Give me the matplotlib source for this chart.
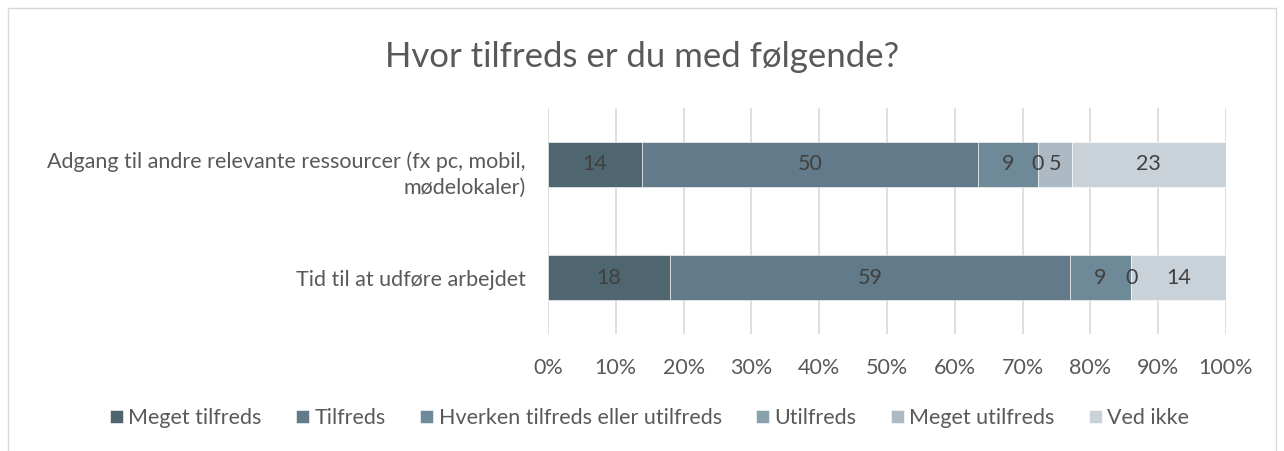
import matplotlib.pyplot as plt
from matplotlib.patches import Rectangle
from matplotlib.transforms import ScaledTranslation

plt.rcParams['font.family'] = ['Lato', 'DejaVu Sans']

categories = ['Adgang til andre relevante ressourcer (fx pc, mobil,\nmødelokaler)',
              'Tid til at udføre arbejdet']
series = ['Meget tilfreds', 'Tilfreds', 'Hverken tilfreds eller utilfreds',
          'Utilfreds', 'Meget utilfreds', 'Ved ikke']
values = [
    [14, 18],   # Meget tilfreds
    [50, 59],   # Tilfreds
    [9, 9],     # Hverken
    [0, 0],     # Utilfreds
    [5, 0],     # Meget utilfreds
    [23, 14],   # Ved ikke
]
colors = ['#4f6570', '#627a89', '#6e8a99', '#8aa0ab', '#adbac3', '#c9d2d8']
txt = '#595959'
fs = 15.5

fig = plt.figure(figsize=(12.84, 4.51), dpi=100)
fig.patches.append(Rectangle((8 / 1284, -0.1), 1268 / 1284, 1.1 - 8 / 451,
                             transform=fig.transFigure, fill=False,
                             edgecolor='#d9d9d9', lw=1))
ax = fig.add_axes([548 / 1284, 1 - 334 / 451, 678 / 1284, 226 / 451])

ypos = [0, 1]
totals = [sum(v[i] for v in values) for i in range(len(categories))]
left = [0.0, 0.0]
for s, vals, c in zip(series, values, colors):
    widths = [v / t for v, t in zip(vals, totals)]
    ax.barh(ypos, widths, left=left, height=0.4, color=c, label=s,
            edgecolor='white', linewidth=0.4, zorder=3)
    for y, l, w, v in zip(ypos, left, widths, vals):
        if s == 'Meget utilfreds' and v == 0:
            continue
        ax.text(l + w / 2, y, str(v), ha='center', va='center',
                fontsize=fs, color='#404040', zorder=4)
    left = [l + w for l, w in zip(left, widths)]

ax.set_xlim(0, 1)
ax.set_ylim(1.5, -0.5)
ax.set_xticks([i / 10 for i in range(11)])
ax.set_xticklabels([f'{i * 10}%' for i in range(11)], fontsize=fs, color=txt)
ax.set_yticks(ypos)
ax.set_yticklabels(categories, fontsize=fs, color=txt, ha='right',
                   multialignment='right', linespacing=1.35)
ax.tick_params(length=0, pad=16, axis='y')
ax.tick_params(length=0, pad=17, axis='x')
# wrapped label sits a bit lower in the original
lab = ax.get_yticklabels()[0]
lab.set_transform(lab.get_transform() + ScaledTranslation(0, -5 / 100, fig.dpi_scale_trans))
ax.grid(axis='x', color='#d9d9d9', lw=1.2, zorder=0)
for sp in ax.spines.values():
    sp.set_visible(False)

fig.text(0.5, 1 - 57 / 451, 'Hvor tilfreds er du med følgende?', ha='center',
         va='center', fontsize=25, color=txt)

fig.legend(loc='center', bbox_to_anchor=(0.506, 1 - 418 / 451), ncol=6,
           frameon=False, fontsize=fs, handlelength=0.6, handleheight=0.6,
           handletextpad=0.25, columnspacing=1.6, labelcolor=txt)

fig.savefig('out.png', dpi=100)
